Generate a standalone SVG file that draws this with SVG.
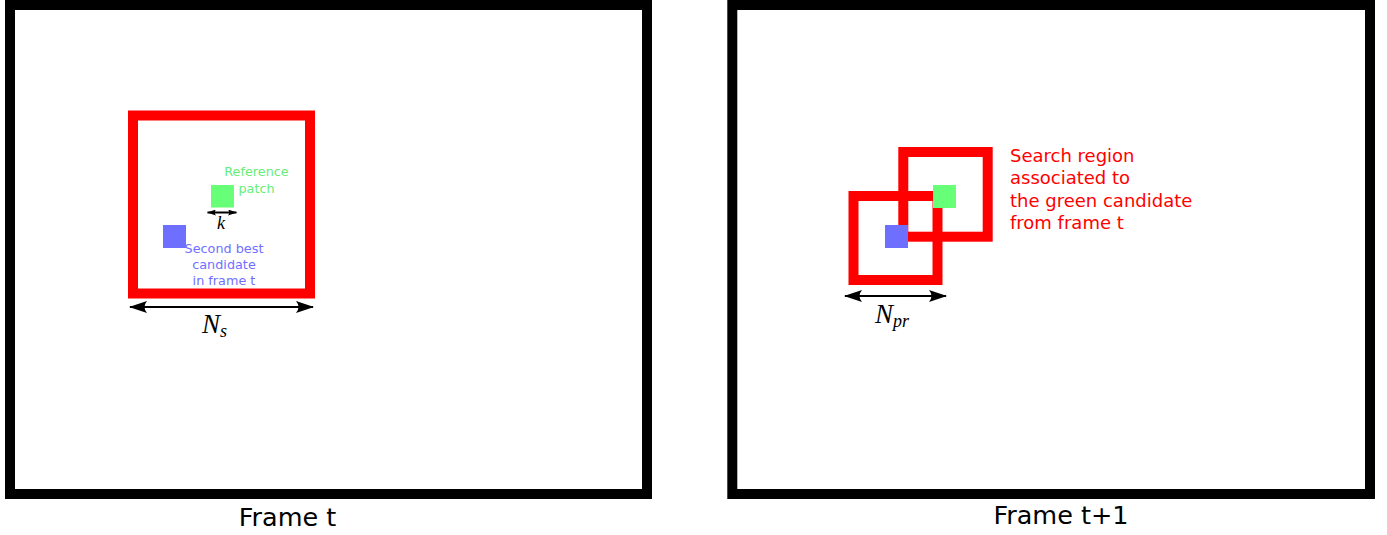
<svg xmlns="http://www.w3.org/2000/svg" width="1387" height="535" viewBox="0 0 1387 535">
<defs>
<style>
.frame{fill:none;stroke:#000;stroke-width:10}
.region{fill:none;stroke:#ff0000;stroke-width:10}
.green{fill:#66ff77}
.blue{fill:#6f6fff}
.dim{fill:none;stroke:#000;stroke-width:2}
.sans{font-family:"DejaVu Sans","Liberation Sans",sans-serif}
.math{font-family:"Liberation Serif","DejaVu Serif",serif;font-style:italic;fill:#000}
</style>
<marker id="ah" viewBox="0 0 18 12" refX="17" refY="6" markerWidth="18" markerHeight="12" markerUnits="userSpaceOnUse" orient="auto-start-reverse">
<path d="M0,0 L18,6 L0,12 Q5,6 0,0 z" fill="#000"/>
</marker>
<marker id="ahs" viewBox="0 0 18 12" refX="17" refY="6" markerWidth="9" markerHeight="6" markerUnits="userSpaceOnUse" orient="auto-start-reverse">
<path d="M0,0 L18,6 L0,12 Q5,6 0,0 z" fill="#000"/>
</marker>
</defs>
<rect width="1387" height="535" fill="#fff"/>
<g id="frame-t">
<rect class="frame" x="10" y="5" width="637" height="489"/>
<text class="sans" x="287.5" y="526" font-size="25.5" text-anchor="middle" fill="#000">Frame t</text>
</g>
<g id="frame-t1">
<rect class="frame" x="732.3" y="5" width="637.7" height="489"/>
<text class="sans" x="1061" y="524" font-size="25.5" text-anchor="middle" fill="#000">Frame t+1</text>
</g>
<g id="search-region-t">
<rect class="region" x="133" y="115.5" width="177" height="178"/>
</g>
<g id="reference-patch">
<rect class="green" x="211" y="185" width="23" height="22.5"/>
<text class="sans" font-size="12.8" fill="#66ee77" text-anchor="middle"><tspan x="256.5" y="176">Reference</tspan><tspan x="256.5" y="192.5">patch</tspan></text>
</g>
<g id="second-best">
<rect class="blue" x="163" y="225" width="23" height="23"/>
<text class="sans" font-size="12.8" fill="#6f6fff" text-anchor="middle"><tspan x="224" y="252.5">Second best</tspan><tspan x="224" y="269">candidate</tspan><tspan x="224" y="285">in frame t</tspan></text>
</g>
<g id="search-region-blue">
<rect class="region" x="853.5" y="196" width="84" height="84"/>
</g>
<g id="search-region-green">
<rect class="region" x="903.3" y="152" width="84.4" height="84.7"/>
<text class="sans" font-size="18" fill="#ff0000"><tspan x="1010" y="161.5">Search region</tspan><tspan x="1010" y="184">associated to</tspan><tspan x="1010" y="206.5">the green candidate</tspan><tspan x="1010" y="229">from frame t</tspan></text>
</g>
<g id="green-candidate">
<rect class="green" x="933" y="185" width="23" height="23"/>
</g>
<g id="blue-candidate">
<rect class="blue" x="885" y="225" width="23" height="23"/>
</g>
<g id="connectors">
<line class="dim" x1="130" y1="307" x2="313" y2="307" marker-start="url(#ah)" marker-end="url(#ah)"/>
<line class="dim" x1="207.5" y1="212.5" x2="236.5" y2="212.5" stroke-width="1.5" marker-start="url(#ahs)" marker-end="url(#ahs)"/>
<line class="dim" x1="845" y1="296" x2="946" y2="296" marker-start="url(#ah)" marker-end="url(#ah)"/>
</g>
<g id="labels">
<text class="math" x="202" y="333" font-size="27">N<tspan font-size="18" dy="4">s</tspan></text>
<text class="math" x="217" y="229" font-size="18">k</text>
<text class="math" x="875" y="322.5" font-size="27">N<tspan font-size="18" dy="4">pr</tspan></text>
</g>
</svg>
